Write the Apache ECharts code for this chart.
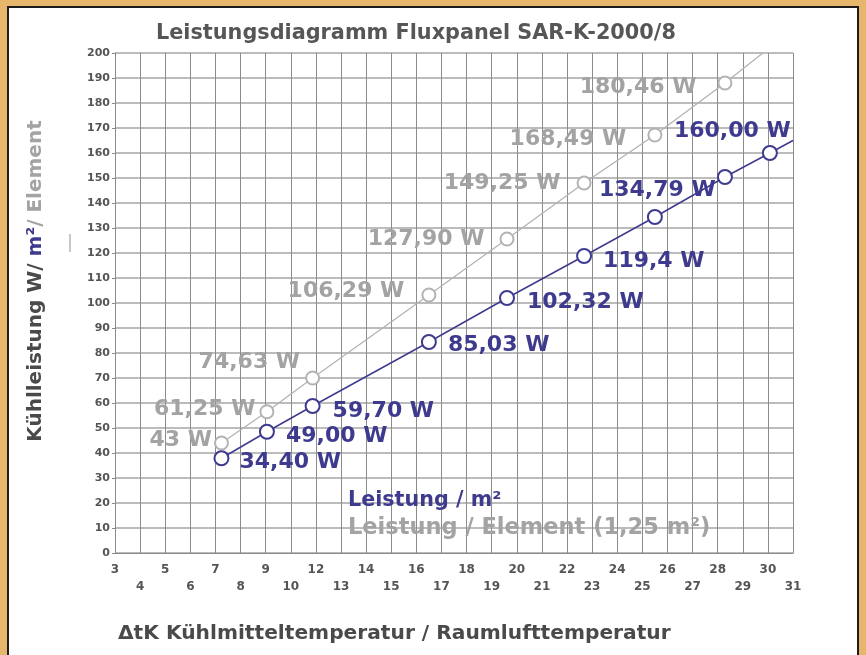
<!DOCTYPE html>
<html>
<head>
<meta charset="utf-8">
<script src="https://cdn.jsdelivr.net/npm/echarts@6/dist/echarts.min.js"></script>
<style>
  html, body { margin: 0; padding: 0; background: #e6b66d; }
  #frame { position: absolute; left: 7px; top: 6px; width: 852px; height: 670px; box-sizing: border-box;
           border: 2px solid #1c1c1c; background: #ffffff; }
  #chart { position: absolute; left: 0; top: 0; width: 866px; height: 655px; }
</style>
</head>
<body>
<div id="frame"></div>
<div id="chart"></div>
<script>
// ---- data ----
const xTickLabels = ['3','4','5','6','7','8','9','10','12','13','14','15','16','17','18','19','20','21','22','23','24','25','26','27','28','29','30','31'];
const yTickValues = [0,10,20,30,40,50,60,70,80,90,100,110,120,130,140,150,160,170,180,190,200];
// x positions of the measured points (in axis tick units, 0 = first tick "3")
const xPositions = [4.24, 6.05, 7.87, 12.5, 15.61, 18.68, 21.5, 24.29, 26.08];
const perM2Values = [37.9, 48.5, 58.8, 84.4, 102, 118.8, 134.4, 150.4, 160];
const perM2Labels = ['34,40 W','49,00 W','59,70 W','85,03 W','102,32 W','119,4 W','134,79 W','','160,00 W'];
const perM2LineEnd = [27, 165];
const perElementValues = [44, 56.5, 70, 103.2, 125.6, 148, 167.2, 188];
const perElementLabels = ['43 W','61,25 W','74,63 W','106,29 W','127,90 W','149,25 W','168,49 W','180,46 W'];
const perElementLineEnd = [25.8, 200];
const seriesNames = ['Leistung / m²', 'Leistung / Element (1,25 m²)'];
const titleText = 'Leistungsdiagramm Fluxpanel SAR-K-2000/8';
const xAxisTitle = 'ΔtK Kühlmitteltemperatur / Raumlufttemperatur';

// ---- layout / style (not data) ----
const BLUE = '#3e3b8e';
const GRAY_TXT = '#a3a3a3';
const GRAY_LINE = '#b3b3b3';
const FONT = 'DejaVu Sans';
// label placement per point: [position, distance, dx, dy]
const m2LabelPlace = [
  ['right', 10, 0, 4], ['right', 11, 0, 5], ['right', 12, 0, 5], ['right', 11, 0, 3],
  ['right', 12, 0, 4], ['right', 11, 0, 5], ['right', 0, -64, -27], null, ['right', 0, -104, -22]
];
const elLabelPlace = [
  ['left', 2, 0, -3], ['left', 4, 0, -2], ['left', 5, 0, -16], ['left', 17, 0, -4],
  ['left', 15, 0, 0], ['left', 16, 0, 0], ['left', 21, 0, 4], ['left', 21, 0, 4]
];

function buildData(xs, ys, labels, places, end) {
  const out = ys.map((v, i) => {
    const p = places[i];
    const item = { value: [xs[i], v] };
    if (p && labels[i]) {
      item.label = { show: true, formatter: labels[i], position: p[0], distance: p[1], offset: [p[2], p[3]] };
    } else {
      item.label = { show: false };
    }
    return item;
  });
  out.push({ value: end, symbol: 'none', label: { show: false } });
  return out;
}

const chart = echarts.init(document.getElementById('chart'), null, { renderer: 'canvas' });
chart.setOption({
  backgroundColor: 'transparent',
  animation: false,
  title: {
    text: titleText, left: 151, top: 18,
    textStyle: { fontFamily: FONT, fontWeight: 'bold', fontSize: 20.8, color: '#565656' }
  },
  legend: {
    orient: 'vertical', left: 338, top: 485, icon: 'none', itemWidth: 0, itemHeight: 14, itemGap: 5,
    selectedMode: false,
    data: [
      { name: seriesNames[0], textStyle: { color: BLUE, fontSize: 20.7, fontFamily: FONT, fontWeight: 'bold', lineHeight: 22 } },
      { name: seriesNames[1], textStyle: { color: GRAY_TXT, fontSize: 22.5, fontFamily: FONT, fontWeight: 'bold', lineHeight: 22 } }
    ]
  },
  grid: { left: 115, top: 53, right: 73, bottom: 102, containLabel: false },
  xAxis: {
    type: 'value', min: 0, max: xTickLabels.length - 1, interval: 1,
    axisLine: { show: true, lineStyle: { color: '#8a8a8a', width: 1 } },
    axisTick: { show: false },
    splitLine: { show: true, lineStyle: { color: '#8c8c8c', width: 1 } },
    axisLabel: {
      margin: 8, fontFamily: FONT, fontWeight: 'bold', fontSize: 12, color: '#555', lineHeight: 17,
      formatter: function (v) { const i = Math.round(v); return (i % 2 ? '\n' : '') + xTickLabels[i]; }
    }
  },
  yAxis: {
    type: 'value', min: yTickValues[0], max: yTickValues[yTickValues.length - 1], interval: 10,
    axisLine: { show: true, lineStyle: { color: '#8a8a8a', width: 1 } },
    axisTick: { show: true, length: 3, lineStyle: { color: '#8a8a8a' } },
    splitLine: { show: true, lineStyle: { color: '#a6a6a6', width: 1.5 } },
    axisLabel: { margin: 5, fontFamily: FONT, fontWeight: 'bold', fontSize: 11, color: '#555' }
  },
  series: [
    {
      name: seriesNames[1], type: 'line', z: 3,
      data: buildData(xPositions, perElementValues, perElementLabels, elLabelPlace, perElementLineEnd),
      symbol: 'emptyCircle', symbolSize: 13,
      lineStyle: { color: GRAY_LINE, width: 1.3 },
      itemStyle: { color: GRAY_LINE, borderWidth: 1.5 },
      label: { fontFamily: FONT, fontWeight: 'bold', fontSize: 22, color: GRAY_TXT, verticalAlign: 'middle' }
    },
    {
      name: seriesNames[0], type: 'line', z: 4,
      data: buildData(xPositions, perM2Values, perM2Labels, m2LabelPlace, perM2LineEnd),
      symbol: 'emptyCircle', symbolSize: 14,
      lineStyle: { color: BLUE, width: 1.5 },
      itemStyle: { color: BLUE, borderWidth: 1.5 },
      label: { fontFamily: FONT, fontWeight: 'bold', fontSize: 22, color: BLUE, verticalAlign: 'middle' }
    }
  ],
  graphic: [
    {
      type: 'text', x: 36, y: 281, rotation: Math.PI / 2,
      style: {
        text: '{a|Kühlleistung W/ }{b|m²}{c|/ Element}',
        align: 'center', verticalAlign: 'middle',
        rich: {
          a: { fontFamily: FONT, fontWeight: 'bold', fontSize: 20, fill: '#4a4a4a' },
          b: { fontFamily: FONT, fontWeight: 'bold', fontSize: 20, fill: BLUE },
          c: { fontFamily: FONT, fontWeight: 'bold', fontSize: 20, fill: GRAY_TXT }
        }
      }
    },
    { type: 'line', shape: { x1: 70, y1: 234, x2: 70, y2: 252 }, style: { stroke: '#b5b5b5', lineWidth: 1.5 } },
    {
      type: 'text', x: 118, y: 634,
      style: { text: xAxisTitle, fontFamily: FONT, fontWeight: 'bold', fontSize: 20.2, fill: '#4a4a4a', verticalAlign: 'middle' }
    }
  ]
});
</script>
</body>
</html>
